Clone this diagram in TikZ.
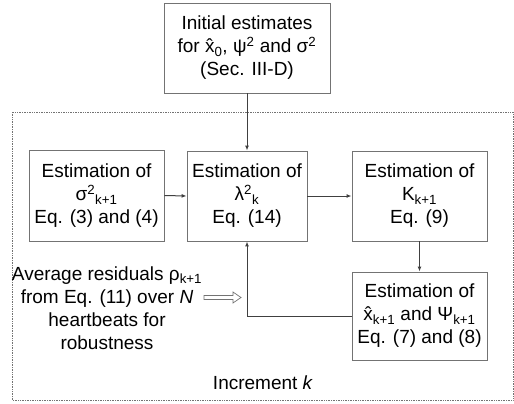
\documentclass[tikz,border=0pt]{standalone}
\usepackage{fontspec}
\setmainfont{Liberation Sans}
\usetikzlibrary{arrows.meta}
\tikzset{
  box/.style={draw=black!55, line width=0.9pt, fill=white, align=center, inner sep=2pt,
    font=\fontsize{19}{23}\selectfont},
  lbl/.style={align=center, font=\fontsize{19}{23}\selectfont},
  conn/.style={draw=black!75, line width=1pt, -{Latex[length=5pt,width=4pt]}},
  hollow/.style={draw=black!55, line width=0.7pt, fill=white},
}
\newcommand{\sbs}[1]{\textsubscript{#1}}
\newcommand{\sps}[1]{\textsuperscript{#1}}
\begin{document}
\begin{tikzpicture}[x=1pt,y=-1pt]
\useasboundingbox (0,0) rectangle (514,404);
\draw[black!55, densely dotted, line width=0.7pt] (12,112) rectangle (513,400);
\node[box, minimum width=166pt, minimum height=90pt] (top) at (247,48)
  {Initial estimates\\ for \^{x}\sbs{0}, ψ\sps{2} and σ\sps{2}\\ (Sec. III-D)};
\node[box, minimum width=135pt, minimum height=91pt] (sig) at (96.5,195.5)
  {Estimation of\\ σ\sps{2}\sbs{k+1}\\ Eq. (3) and (4)};
\node[box, minimum width=120pt, minimum height=90pt] (lam) at (247,196)
  {Estimation of\\ λ\sps{2}\sbs{k}\\ Eq. (14)};
\node[box, minimum width=135pt, minimum height=90pt] (K) at (419.5,196)
  {Estimation of\\ K\sbs{k+1}\\ Eq. (9)};
\node[box, minimum width=135pt, minimum height=88pt] (xh) at (419.5,316)
  {Estimation of\\ \^{x}\sbs{k+1} and Ψ\sbs{k+1}\\ Eq. (7) and (8)};
\node[lbl] (avg) at (107,308)
  {Average residuals ρ\sbs{k+1}\\ from Eq. (11) over \textit{N}\\ heartbeats for\\ robustness};
\node[lbl] (inc) at (263,383) {Increment \textit{k}};
\coordinate (corner) at (lam.south |- xh.west);
\draw[conn] (top.south) -- (lam.north);
\draw[conn] (sig.east) -- (lam.west);
\draw[conn] (lam.east) -- (K.west);
\draw[conn] (K.south) -- (xh.north);
\draw[conn] (xh.west) -- (corner) -- (lam.south);
\draw[hollow] (204,295.5) -- (233,295.5) -- (233,292) -- (241,297.5) -- (233,303)
  -- (233,299.5) -- (204,299.5) -- cycle;
\end{tikzpicture}
\end{document}
